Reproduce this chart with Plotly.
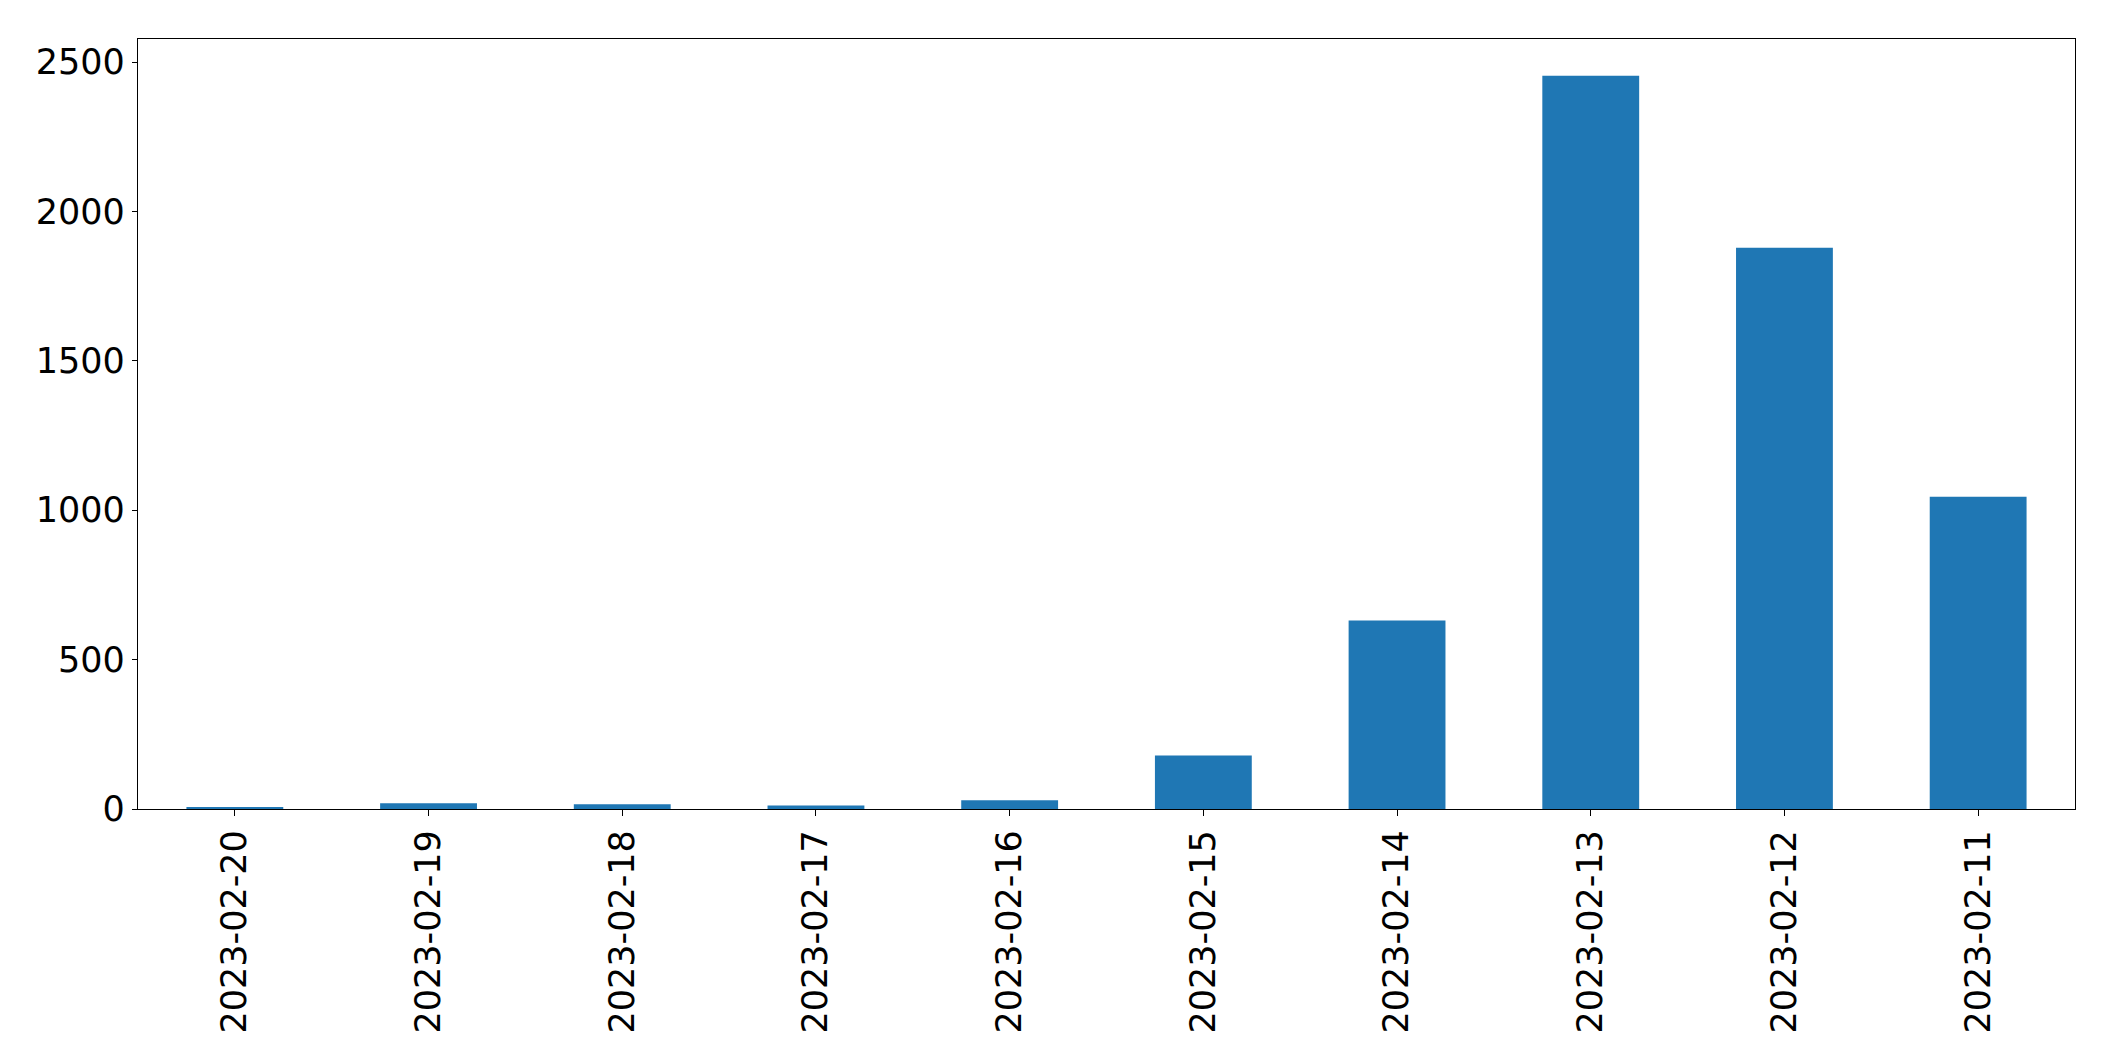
import plotly.graph_objects as go

dates = ["2023-02-20", "2023-02-19", "2023-02-18", "2023-02-17", "2023-02-16",
         "2023-02-15", "2023-02-14", "2023-02-13", "2023-02-12", "2023-02-11"]
counts = [4, 19, 16, 12, 29, 179, 631, 2454, 1878, 1045]
y_ticks = [0, 500, 1000, 1500, 2000, 2500]

fig = go.Figure(go.Bar(x=dates, y=counts, marker=dict(color="#1f77b4", line=dict(width=0)), width=0.5))

fig.update_layout(
    width=2115, height=1061,
    margin=dict(l=130, r=48, t=31, b=260),
    plot_bgcolor="white", paper_bgcolor="white",
    font=dict(family="DejaVu Sans", size=35, color="black"),
    showlegend=False,
)
fig.update_xaxes(
    type="category", range=[-0.5, 9.5], tickangle=-90,
    showline=True, linecolor="black", linewidth=1.3, mirror=True,
    ticks="outside", ticklen=6, tickwidth=1.3, tickcolor="black",
    showgrid=False, zeroline=False, tickfont=dict(size=35),
)
fig.update_yaxes(
    range=[0, 2577], tickvals=y_ticks, ticktext=[str(v) for v in y_ticks],
    showline=True, linecolor="black", linewidth=1.3, mirror=True,
    ticks="outside", ticklen=5, tickwidth=1.3, tickcolor="black",
    showgrid=False, zeroline=False, tickfont=dict(size=35),
)
fig.write_html("out.html")
